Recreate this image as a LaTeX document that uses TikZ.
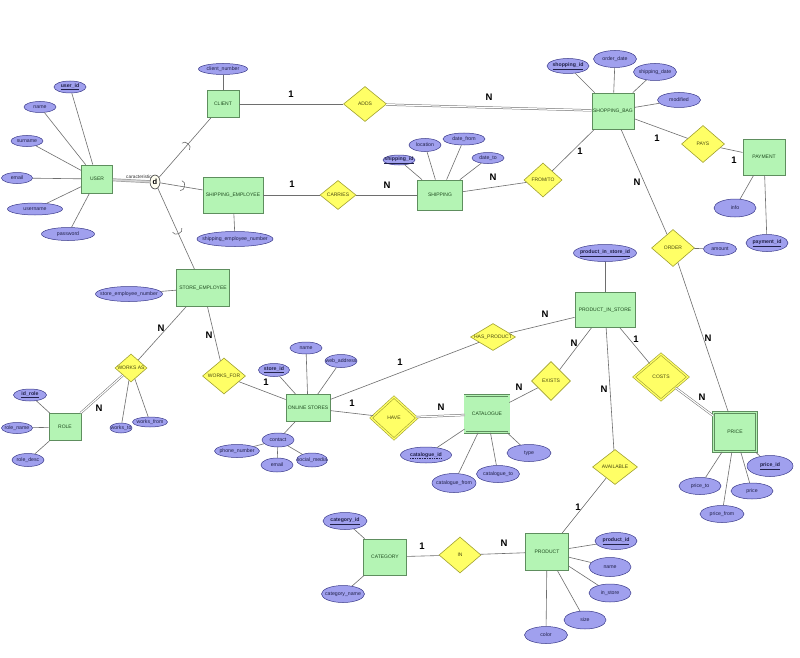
\documentclass[tikz,border=0pt]{standalone}
\usepackage{fontspec}
\setmainfont{Liberation Sans}
\usetikzlibrary{shapes.geometric,calc}
\definecolor{entfill}{HTML}{B4F4B4}
\definecolor{entline}{HTML}{5E8E5E}
\definecolor{enttext}{HTML}{1E4A1E}
\definecolor{relfill}{HTML}{FFFF66}
\definecolor{relline}{HTML}{A0A030}
\definecolor{reltext}{HTML}{4A4A10}
\definecolor{attrfill}{HTML}{A0A0EE}
\definecolor{attrline}{HTML}{3A3A8A}
\definecolor{attrtext}{HTML}{22224A}
\definecolor{connc}{HTML}{6E6E6E}
\newcommand\mk[1]{\makebox[0pt]{#1}}
\newcommand\keyattr[1]{\underline{\textbf{#1}}}
\tikzset{
  ent/.style={rectangle, draw=entline, fill=entfill, line width=0.7pt, inner sep=0pt, font=\fontsize{5}{5}\selectfont, text=enttext},
  weak/.style={ent, double=entfill, double distance=1.3pt},
  rel/.style={diamond, draw=relline, fill=relfill, line width=0.6pt, inner sep=0pt, font=\fontsize{5}{5}\selectfont, text=reltext},
  idrel/.style={rel, double=relfill, double distance=1.3pt},
  attr/.style={ellipse, draw=attrline, fill=attrfill, line width=0.5pt, inner sep=0pt, font=\fontsize{5.2}{5}\selectfont, text=attrtext},
  conn/.style={draw=connc, line width=0.6pt},
  dconn/.style={draw=connc, line width=0.5pt, double=white, double distance=1.2pt},
  card/.style={font=\bfseries\fontsize{9.5}{10}\selectfont, text=black, inner sep=0pt}
}
\begin{document}
\begin{tikzpicture}[x=1pt,y=-1pt]
\useasboundingbox[fill=white] (0,0) rectangle (800,658);

% entities
\node[ent, minimum width=31, minimum height=28] (user) at (97,179) {\mk{USER}};
\node[ent, minimum width=32, minimum height=27] (client) at (223,104) {\mk{CLIENT}};
\node[ent, minimum width=60, minimum height=36] (shipemp) at (233,195) {\mk{SHIPPING\_EMPLOYEE}};
\node[ent, minimum width=53, minimum height=37] (storeemp) at (203,288) {\mk{STORE\_EMPLOYEE}};
\node[ent, minimum width=45, minimum height=30] (shipping) at (440,195) {\mk{SHIPPING}};
\node[ent, minimum width=42, minimum height=36] (bag) at (613,111) {\mk{SHOPPING\_BAG}};
\node[ent, minimum width=42, minimum height=36] (payment) at (764,157) {\mk{PAYMENT}};
\node[ent, minimum width=60, minimum height=35] (pis) at (605,310) {\mk{PRODUCT\_IN\_STORE}};
\node[ent, minimum width=44, minimum height=27] (online) at (308,408) {\mk{ONLINE STORES}};
\node[weak, minimum width=44, minimum height=37] (catalogue) at (487,414) {\mk{CATALOGUE}};
\node[weak, minimum width=43, minimum height=39] (price) at (735,432) {\mk{PRICE}};
\node[ent, minimum width=32, minimum height=27] (role) at (65,427) {\mk{ROLE}};
\node[ent, minimum width=43, minimum height=36] (category) at (385,557) {\mk{CATEGORY}};
\node[ent, minimum width=43, minimum height=37] (product) at (547,552) {\mk{PRODUCT}};

% relationships
\node[rel, minimum width=43, minimum height=35] (adds) at (365,104) {\mk{ADDS}};
\node[rel, minimum width=36, minimum height=29] (carries) at (338,195) {\mk{CARRIES}};
\node[rel, minimum width=38, minimum height=34] (fromto) at (543,180) {\mk{FROM/TO}};
\node[rel, minimum width=43, minimum height=37] (pays) at (703,144) {\mk{PAYS}};
\node[rel, minimum width=43, minimum height=37] (order) at (673,248) {\mk{ORDER}};
\node[rel, minimum width=45, minimum height=27] (hasprod) at (493,337) {\mk{HAS\_PRODUCT}};
\node[rel, minimum width=39, minimum height=39] (exists) at (551,381) {\mk{EXISTS}};
\node[idrel, minimum width=54, minimum height=46] (costs) at (661,377) {\mk{COSTS}};
\node[rel, minimum width=45, minimum height=35] (available) at (615,467) {\mk{AVAILABLE}};
\node[idrel, minimum width=46, minimum height=42] (have) at (394,418) {\mk{HAVE}};
\node[rel, minimum width=43, minimum height=36] (worksfor) at (224,376) {\mk{WORKS\_FOR}};
\node[rel, minimum width=32, minimum height=28] (worksas) at (131,368) {\mk{WORKS AS}};
\node[rel, minimum width=42, minimum height=36] (in) at (460,555) {\mk{IN}};

% attributes
\node[attr, minimum width=32, minimum height=12] (uid) at (70,87) {\mk{\keyattr{user\_id}}};
\node[attr, minimum width=32, minimum height=11] (uname) at (40,107) {\mk{name}};
\node[attr, minimum width=32, minimum height=11] (usurname) at (27,141) {\mk{surname}};
\node[attr, minimum width=31, minimum height=11] (uemail) at (17,178) {\mk{email}};
\node[attr, minimum width=55, minimum height=12] (uusername) at (35,209) {\mk{username}};
\node[attr, minimum width=53, minimum height=13] (upassword) at (68,234) {\mk{password}};
\node[attr, minimum width=49, minimum height=11] (clientnum) at (223,69) {\mk{client\_number}};
\node[attr, minimum width=76, minimum height=15] (shipempnum) at (235,239) {\mk{shipping\_employee\_number}};
\node[attr, minimum width=67, minimum height=15] (storeempnum) at (129,294) {\mk{store\_employee\_number}};
\node[attr, minimum width=32, minimum height=10] (shipid) at (399,160) {\mk{\keyattr{shipping\_id}}};
\node[attr, minimum width=32, minimum height=13] (shiploc) at (425,145) {\mk{location}};
\node[attr, minimum width=42, minimum height=12] (shipfrom) at (464,139) {\mk{date\_from}};
\node[attr, minimum width=32, minimum height=11] (shipto) at (488,158) {\mk{date\_to}};
\node[attr, minimum width=42, minimum height=15] (bagid) at (568,66) {\mk{\keyattr{shopping\_id}}};
\node[attr, minimum width=43, minimum height=17] (bagorder) at (615,59) {\mk{order\_date}};
\node[attr, minimum width=43, minimum height=17] (bagship) at (655,72) {\mk{shipping\_date}};
\node[attr, minimum width=43, minimum height=15] (bagmod) at (679,100) {\mk{modified}};
\node[attr, minimum width=42, minimum height=18] (payinfo) at (735,208) {\mk{info}};
\node[attr, minimum width=42, minimum height=17] (payid) at (767,243) {\mk{\keyattr{payment\_id}}};
\node[attr, minimum width=33, minimum height=13] (amount) at (720,249) {\mk{amount}};
\node[attr, minimum width=63, minimum height=17] (pisid) at (605,253) {\mk{\keyattr{product\_in\_store\_id}}};
\node[attr, minimum width=32, minimum height=12] (osname) at (306,348) {\mk{name}};
\node[attr, minimum width=32, minimum height=13] (osweb) at (341,361) {\mk{web\_address}};
\node[attr, minimum width=31, minimum height=13] (osid) at (274,370) {\mk{\keyattr{store\_id}}};
\node[attr, minimum width=32, minimum height=14] (oscontact) at (278,440) {\mk{contact}};
\node[attr, minimum width=45, minimum height=13] (osphone) at (237,451) {\mk{phone\_number}};
\node[attr, minimum width=32, minimum height=14] (osemail) at (277,465) {\mk{email}};
\node[attr, minimum width=31, minimum height=14] (ossocial) at (312,460) {\mk{social\_media}};
\node[attr, minimum width=51, minimum height=16] (catid) at (426,455) {\mk{\textbf{catalogue\_id}}};
\node[attr, minimum width=44, minimum height=19] (catfrom) at (454,483) {\mk{catalogue\_from}};
\node[attr, minimum width=43, minimum height=17] (catto) at (498,474) {\mk{catalogue\_to}};
\node[attr, minimum width=44, minimum height=17] (cattype) at (529,453) {\mk{type}};
\node[attr, minimum width=42, minimum height=17] (priceto) at (700,486) {\mk{price\_to}};
\node[attr, minimum width=44, minimum height=17] (pricefrom) at (722,514) {\mk{price\_from}};
\node[attr, minimum width=42, minimum height=16] (priceval) at (752,491) {\mk{price}};
\node[attr, minimum width=46, minimum height=21] (priceid) at (770,466) {\mk{\keyattr{price\_id}}};
\node[attr, minimum width=33, minimum height=12] (roleid) at (30,395) {\mk{\keyattr{id\_role}}};
\node[attr, minimum width=31, minimum height=11] (rolename) at (17,428) {\mk{role\_name}};
\node[attr, minimum width=32, minimum height=13] (roledesc) at (28,460) {\mk{role\_desc}};
\node[attr, minimum width=22, minimum height=10] (worksto) at (121,428) {\mk{works\_to}};
\node[attr, minimum width=35, minimum height=10] (worksfrom) at (150,422) {\mk{works\_from}};
\node[attr, minimum width=44, minimum height=17] (categid) at (345,521) {\mk{\keyattr{category\_id}}};
\node[attr, minimum width=43, minimum height=17] (categname) at (343,594) {\mk{category\_name}};
\node[attr, minimum width=42, minimum height=17] (prodid) at (616,541) {\mk{\keyattr{product\_id}}};
\node[attr, minimum width=42, minimum height=19] (prodname) at (610,567) {\mk{name}};
\node[attr, minimum width=42, minimum height=18] (prodinstore) at (610,593) {\mk{in\_store}};
\node[attr, minimum width=42, minimum height=18] (prodsize) at (585,620) {\mk{size}};
\node[attr, minimum width=43, minimum height=17] (prodcolor) at (546,635) {\mk{color}};
\draw[attrtext, line width=0.4pt, dash pattern=on 1pt off 0.7pt] ($(catid.center)+(-16,2.7)$) -- ($(catid.center)+(16,2.7)$);

% specialization circle
\node[ellipse, draw=black!80, fill=yellow!6, minimum width=10, minimum height=14, inner sep=0pt, line width=0.6pt, font=\bfseries\fontsize{7.5}{7.5}\selectfont] (dd) at (155,182) {d};
\node[font=\fontsize{4.8}{5}\selectfont, text=black!80, inner sep=0pt] (chartext) at (139,176.5) {caracteristic};

% attribute links
\foreach \a/\b in {user/uid, user/uname, user/usurname, user/uemail, user/uusername, user/upassword,
  client/clientnum, shipemp/shipempnum, storeemp/storeempnum,
  shipping/shipid, shipping/shiploc, shipping/shipfrom, shipping/shipto,
  bag/bagid, bag/bagorder, bag/bagship, bag/bagmod,
  payment/payinfo, payment/payid, order/amount, pis/pisid,
  online/osname, online/osweb, online/osid, online/oscontact,
  oscontact/osphone, oscontact/osemail, oscontact/ossocial,
  catalogue/catid, catalogue/catfrom, catalogue/catto, catalogue/cattype,
  price/priceto, price/pricefrom, price/priceval, price/priceid,
  role/roleid, role/rolename, role/roledesc,
  worksas/worksto, worksas/worksfrom,
  category/categid, category/categname,
  product/prodid, product/prodname, product/prodinstore, product/prodsize, product/prodcolor}
  \draw[conn] (\a) -- (\b);

% relationship links
\foreach \a/\b in {client/adds, shipemp/carries, carries/shipping, shipping/fromto, fromto/bag,
  bag/pays, pays/payment, bag/order, order/price, storeemp/worksas, storeemp/worksfor,
  worksfor/online, online/hasprod, hasprod/pis, online/have, catalogue/exists, exists/pis,
  pis/costs, pis/available, available/product, category/in, in/product,
  dd/client, dd/shipemp, dd/storeemp}
  \draw[conn] (\a) -- (\b);
\foreach \a/\b in {adds/bag, worksas/role, have/catalogue, costs/price}
  \draw[dconn] (\a) -- (\b);
\draw[draw=gray!75, line width=0.7pt, double=gray!35, double distance=1.6pt] (user) -- (dd);

% subset arcs
\draw[conn] (189.4,149.8) .. controls (192.7,146.1) and (185.2,139.5) .. (181.9,143.2);
\draw[conn] (180.1,190.5) .. controls (185.0,191.4) and (186.8,181.6) .. (181.9,180.7);
\draw[conn] (181.8,228.2) .. controls (183.8,232.8) and (174.6,236.8) .. (172.6,232.2);

% cardinalities
\node[card] (c1) at (291,94) {1};
\node[card] (c2) at (489,97) {N};
\node[card] (c3) at (292,184) {1};
\node[card] (c4) at (387,185) {N};
\node[card] (c5) at (493,177) {N};
\node[card] (c6) at (580,151) {1};
\node[card] (c7) at (657,138) {1};
\node[card] (c8) at (734,160) {1};
\node[card] (c9) at (637,182) {N};
\node[card] (c10) at (708,338) {N};
\node[card] (c11) at (161,328) {N};
\node[card] (c12) at (99,408) {N};
\node[card] (c13) at (209,335) {N};
\node[card] (c14) at (266,382) {1};
\node[card] (c15) at (400,362) {1};
\node[card] (c16) at (545,314) {N};
\node[card] (c17) at (352,403) {1};
\node[card] (c18) at (441,407) {N};
\node[card] (c19) at (519,387) {N};
\node[card] (c20) at (574,343) {N};
\node[card] (c21) at (636,339) {1};
\node[card] (c22) at (702,397) {N};
\node[card] (c23) at (604,389) {N};
\node[card] (c24) at (578,507) {1};
\node[card] (c25) at (422,546) {1};
\node[card] (c26) at (504,543) {N};
\end{tikzpicture}
\end{document}
